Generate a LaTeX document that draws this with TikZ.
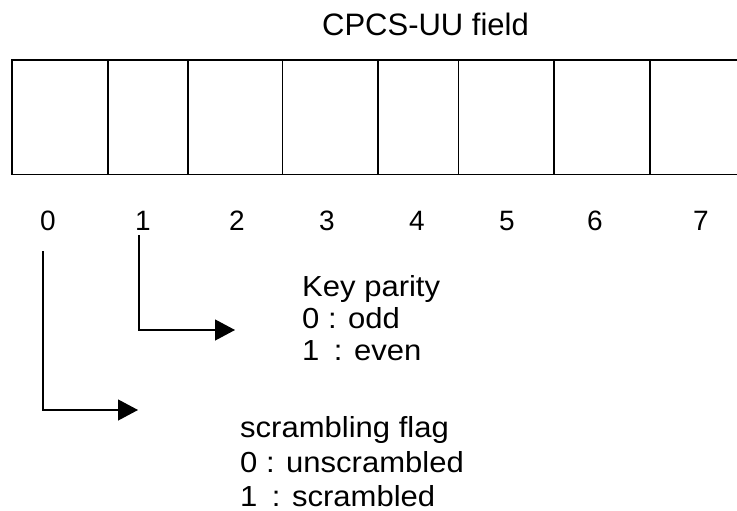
\documentclass[tikz,border=0pt]{standalone}
\usepackage{fontspec}
\setmainfont{Liberation Sans}
\newfontfamily\widefont[FakeStretch=1.07]{Liberation Sans}
\usetikzlibrary{arrows.meta}
\tikzset{
  cell/.style={draw, line width=1.6pt, anchor=north west, inner sep=0pt, minimum height=114pt},
  digit/.style={anchor=base, inner sep=0pt, font=\fontsize{28}{28}\selectfont},
  note/.style={anchor=base west, inner sep=0pt, font=\widefont\fontsize{29}{29}\selectfont},
  title/.style={anchor=base, inner sep=0pt, font=\fontsize{31}{31}\selectfont},
  arr/.style={line width=1.2pt, -{Triangle[length=20pt,width=21pt]}}
}
\begin{document}
\begin{tikzpicture}[x=1pt,y=-1pt]
\useasboundingbox (0,0) rectangle (737,511);
\node[title] (ttl) at (425.5,36) {CPCS-UU field};
% cells
\node[cell, minimum width=96.3pt] (c0) at (11,59.5) {};
\node[cell, minimum width=80pt]   (c1) at (107.3,59.5) {};
\node[cell, minimum width=94.4pt] (c2) at (187.3,59.5) {};
\node[cell, minimum width=95.6pt] (c3) at (281.7,59.5) {};
\node[cell, minimum width=80.4pt] (c4) at (377.3,59.5) {};
\node[cell, minimum width=95.6pt] (c5) at (457.7,59.5) {};
\node[cell, minimum width=96pt]   (c6) at (553.3,59.5) {};
\node[cell, minimum width=92pt]   (c7) at (649.3,59.5) {};
% digits
\node[digit] (d0) at (48,230) {0};
\node[digit] (d1) at (143,230) {1};
\node[digit] (d2) at (237,230) {2};
\node[digit] (d3) at (327,230) {3};
\node[digit] (d4) at (417,230) {4};
\node[digit] (d5) at (507,230) {5};
\node[digit] (d6) at (595,230) {6};
\node[digit] (d7) at (701,230) {7};
% connectors
\coordinate (s0) at (43,251);
\coordinate (t0) at (138,410);
\coordinate (s1) at (139,235);
\coordinate (t1) at (235,330);
\draw[arr] (s0) |- (t0);
\draw[arr] (s1) |- (t1);
% notes
\node[note] (kp1) at (302,296) {Key parity};
\node[note] (kp2) at (302,328) {0 : odd};
\node[note] (kp3) at (302,360) {1\enspace : even};
\node[note] (sf1) at (240,437) {scrambling flag};
\node[note] (sf2) at (240,472) {0 : unscrambled};
\node[note] (sf3) at (240,506) {1\enspace : scrambled};
\end{tikzpicture}
\end{document}
